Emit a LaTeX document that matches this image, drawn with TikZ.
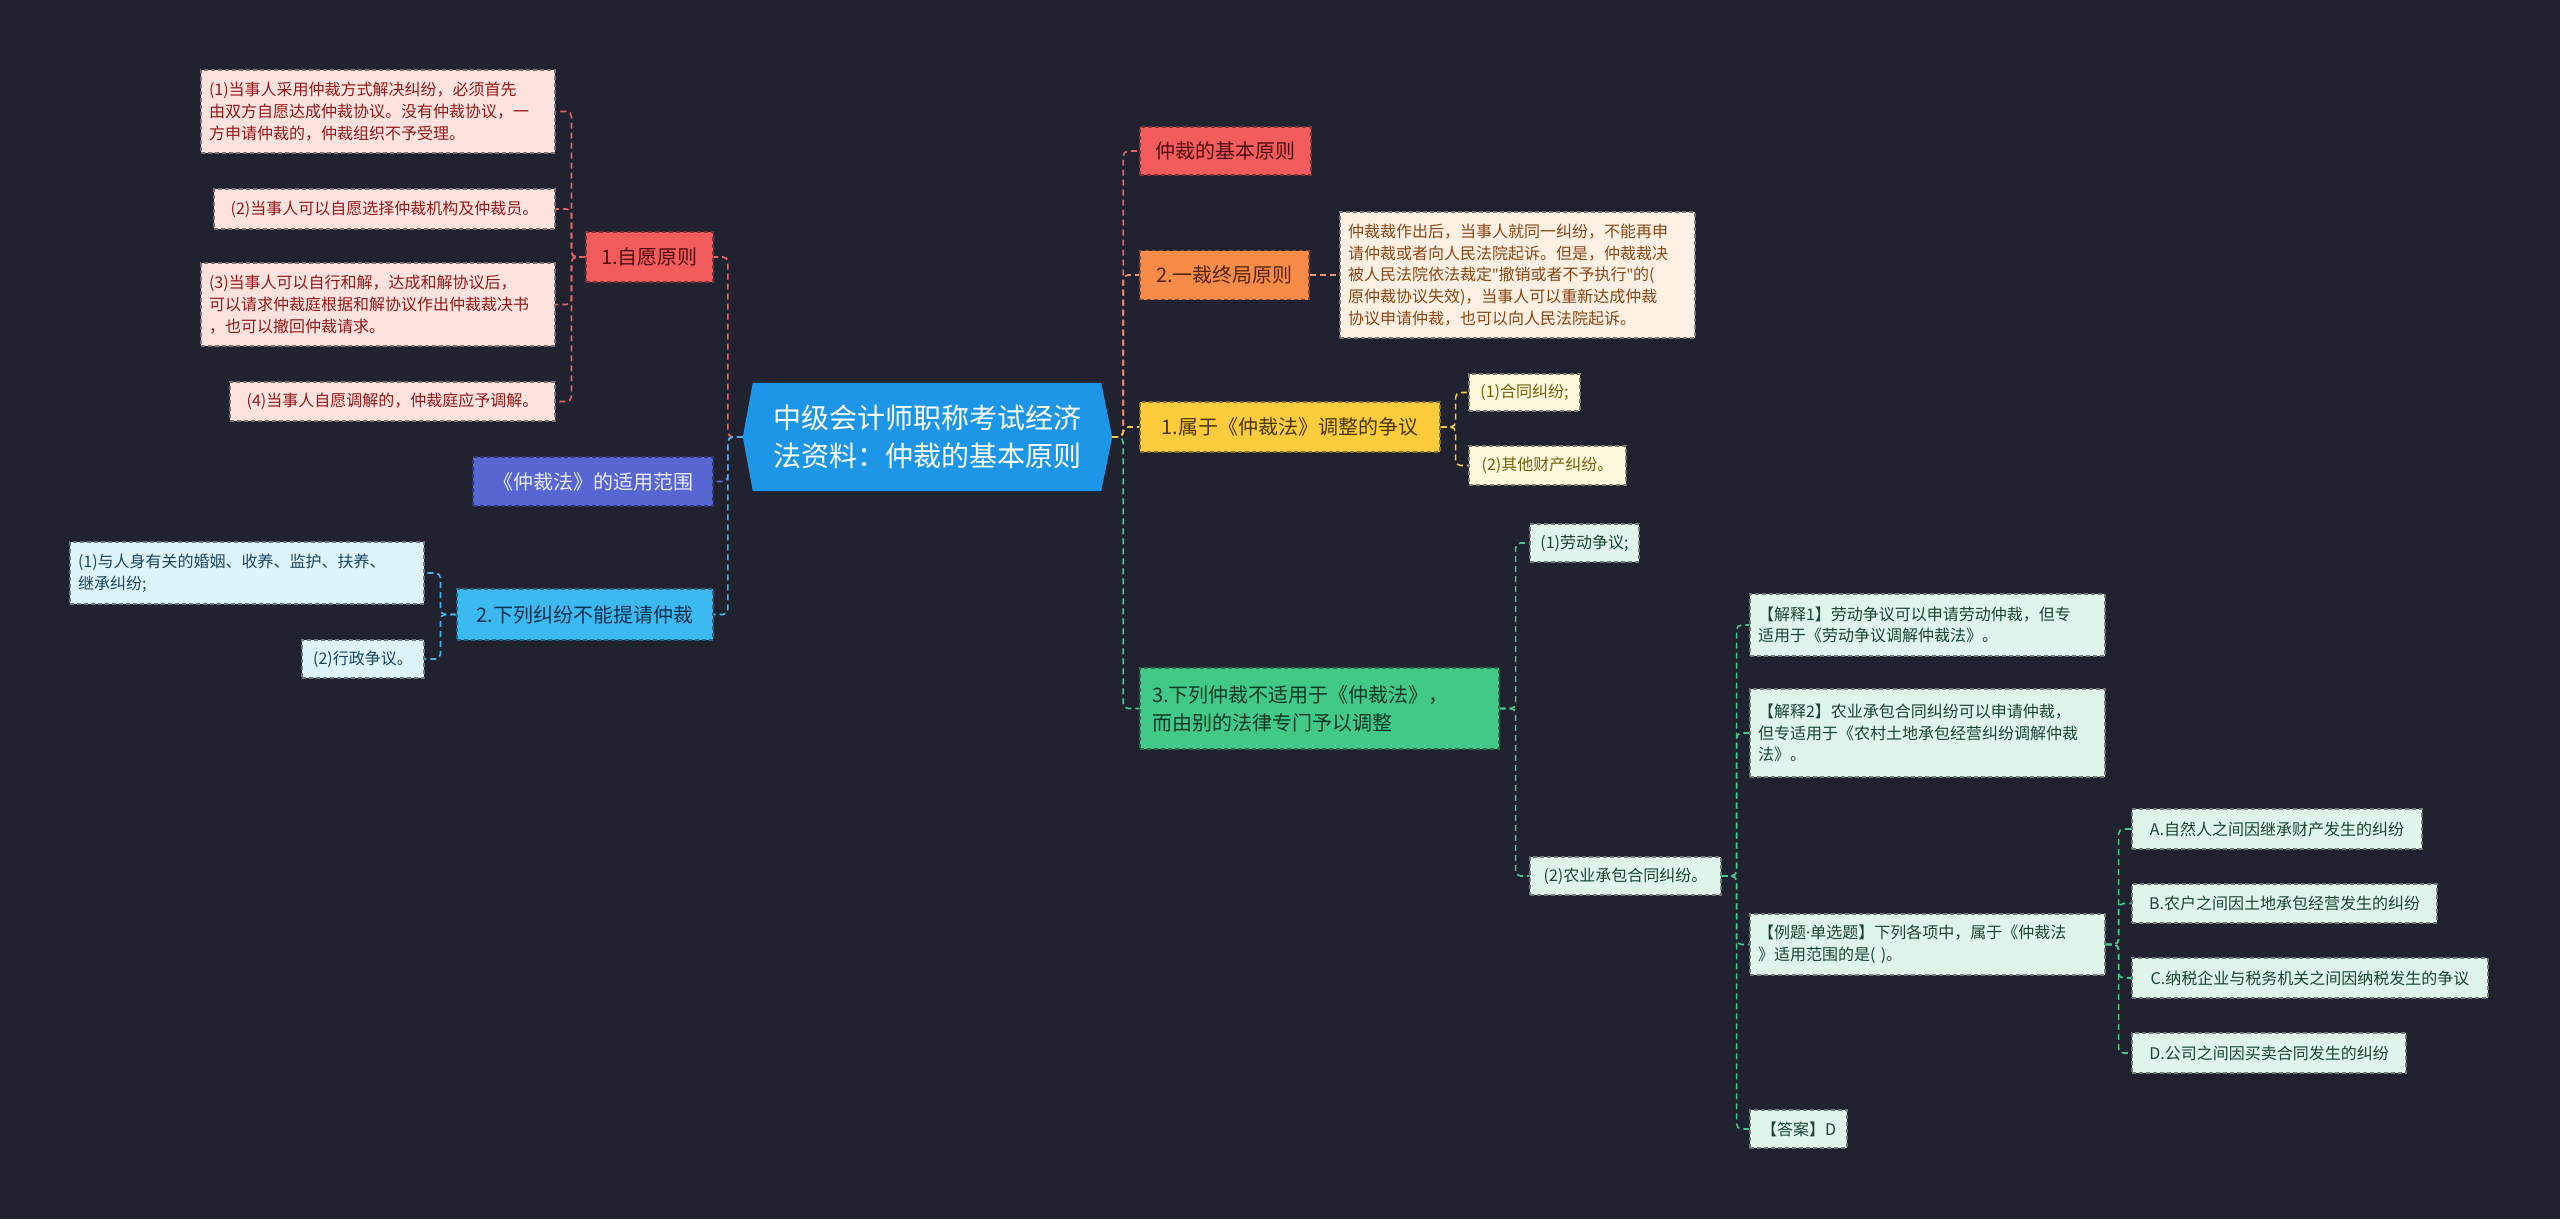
\documentclass[tikz,border=0pt]{standalone}
\usepackage{fontspec}
\setmainfont{Noto Sans CJK SC}
\newfontfamily\latinfont{Noto Sans}
\pgfdeclarelayer{bgfill}
\pgfdeclarelayer{bg}
\pgfsetlayers{bgfill,bg,main}
\definecolor{bgc}{RGB}{32,35,47}
\definecolor{hexblue}{RGB}{30,150,232}
% level box colours
\definecolor{cRedF}{RGB}{242,92,92}\definecolor{cRedT}{RGB}{80,12,12}
\definecolor{cOrgF}{RGB}{247,140,72}\definecolor{cOrgT}{RGB}{85,38,8}
\definecolor{cYelF}{RGB}{252,204,60}\definecolor{cYelT}{RGB}{75,55,0}
\definecolor{cGrnF}{RGB}{66,200,135}\definecolor{cGrnT}{RGB}{10,58,34}
\definecolor{cPurF}{RGB}{88,102,212}\definecolor{cPurT}{RGB}{232,236,255}
\definecolor{cBluF}{RGB}{60,185,240}\definecolor{cBluT}{RGB}{10,48,78}
% leaf colours
\definecolor{cPinkF}{RGB}{253,226,222}\definecolor{cPinkT}{RGB}{150,25,25}
\definecolor{cOrgLF}{RGB}{255,240,228}\definecolor{cOrgLT}{RGB}{140,70,20}
\definecolor{cYelLF}{RGB}{255,248,220}\definecolor{cYelLT}{RGB}{120,95,10}
\definecolor{cGrnLF}{RGB}{224,245,234}\definecolor{cGrnLT}{RGB}{25,70,50}
\definecolor{cBluLF}{RGB}{222,244,253}\definecolor{cBluLT}{RGB}{25,70,100}
% edge colours
\definecolor{cRedE}{RGB}{232,100,100}
\definecolor{cOrgE}{RGB}{240,150,100}
\definecolor{cYelE}{RGB}{245,200,70}
\definecolor{cGrnE}{RGB}{70,200,140}
\definecolor{cBluE}{RGB}{70,180,235}
\definecolor{cPurE}{RGB}{100,112,215}
\begin{document}
\begin{tikzpicture}[x=1pt,y=-1pt,
  box/.style={rectangle, line width=1.1pt, dash pattern=on 4pt off 3pt, inner ysep=4pt},
  lvl/.style={box, font=\fontsize{20}{28}\selectfont, inner xsep=12pt, align=center},
  leaf/.style={box, font=\fontsize{16}{21.7}\selectfont, inner xsep=8pt, align=left},
  redbox/.style={lvl, fill=cRedF, draw=cRedF!55!black, text=cRedT},
  orgbox/.style={lvl, fill=cOrgF, draw=cOrgF!55!black, text=cOrgT},
  yelbox/.style={lvl, fill=cYelF, draw=cYelF!55!black, text=cYelT},
  grnbox/.style={lvl, fill=cGrnF, draw=cGrnF!55!black, text=cGrnT},
  purbox/.style={lvl, fill=cPurF, draw=cPurF!55!black, text=cPurT},
  blubox/.style={lvl, fill=cBluF, draw=cBluF!55!black, text=cBluT},
  pinkleaf/.style={leaf, fill=cPinkF, draw=cPinkF!50!black, text=cPinkT},
  orgleaf/.style={leaf, fill=cOrgLF, draw=cOrgLF!50!black, text=cOrgLT},
  yelleaf/.style={leaf, fill=cYelLF, draw=cYelLF!50!black, text=cYelLT},
  grnleaf/.style={leaf, fill=cGrnLF, draw=cGrnLF!50!black, text=cGrnLT},
  bluleaf/.style={leaf, fill=cBluLF, draw=cBluLF!50!black, text=cBluLT},
  link/.style={line width=1.6pt, dash pattern=on 6pt off 4pt, rounded corners=5pt},
  eRed/.style={link, draw=cRedE},
  eOrg/.style={link, draw=cOrgE},
  eYel/.style={link, draw=cYelE},
  eGrn/.style={link, draw=cGrnE},
  eBlu/.style={link, draw=cBluE},
  ePur/.style={link, draw=cPurE}
]
\begin{pgfonlayer}{bgfill}
\fill[bgc] (0,0) rectangle (2560,1219);
\end{pgfonlayer}
\useasboundingbox (0,0) rectangle (2560,1219);

% central
\node[font=\fontsize{28}{38}\selectfont, text=white, align=center, minimum width=369pt, minimum height=108pt, inner sep=0pt] (c) at (927.5,437) {中级会计师职称考试经济\\法资料：仲裁的基本原则};

% left level 1
\node[redbox, minimum width=127pt, minimum height=50pt] (n1) at (649.5,257) {1.自愿原则};
\node[purbox, minimum width=240pt, minimum height=49pt] (nfan) at (593,481.5) {《仲裁法》的适用范围};
\node[blubox, minimum width=256pt, minimum height=51pt] (n2) at (585,614.5) {2.下列纠纷不能提请仲裁};

% left leaves
\node[pinkleaf, text width=338pt, minimum height=83pt] (l1a) at (378,111.5) {(1)当事人采用仲裁方式解决纠纷，必须首先\\由双方自愿达成仲裁协议。没有仲裁协议，一\\方申请仲裁的，仲裁组织不予受理。};
\node[pinkleaf, minimum width=341pt, minimum height=40pt] (l1b) at (384.5,209) {(2)当事人可以自愿选择仲裁机构及仲裁员。};
\node[pinkleaf, text width=338pt, minimum height=83pt] (l1c) at (378,304.5) {(3)当事人可以自行和解，达成和解协议后，\\可以请求仲裁庭根据和解协议作出仲裁裁决书\\，也可以撤回仲裁请求。};
\node[pinkleaf, minimum width=325pt, minimum height=39pt] (l1d) at (392.5,401.5) {(4)当事人自愿调解的，仲裁庭应予调解。};
\node[bluleaf, text width=338pt, minimum height=62pt] (l2a) at (247,573) {(1)与人身有关的婚姻、收养、监护、扶养、\\继承纠纷;};
\node[bluleaf, minimum width=122pt, minimum height=38pt] (l2b) at (363,659) {(2)行政争议。};

% right level 1
\node[redbox, minimum width=171pt, minimum height=48pt] (r0) at (1225.5,151) {仲裁的基本原则};
\node[orgbox, minimum width=169pt, minimum height=49pt] (r1) at (1224.5,275) {2.一裁终局原则};
\node[yelbox, minimum width=300pt, minimum height=50pt] (r2) at (1290,427) {1.属于《仲裁法》调整的争议};
\node[grnbox, align=left, text width=335pt, minimum height=81pt] (r3) at (1319.5,708.5) {3.下列仲裁不适用于《仲裁法》，\\而由别的法律专门予以调整};

% right leaves
\node[orgleaf, text width=339pt, minimum height=126pt] (r1a) at (1517.5,275) {仲裁裁作出后，当事人就同一纠纷，不能再申\\请仲裁或者向人民法院起诉。但是，仲裁裁决\\被人民法院依法裁定{\latinfont"}撤销或者不予执行{\latinfont"}的(\\原仲裁协议失效)，当事人可以重新达成仲裁\\协议申请仲裁，也可以向人民法院起诉。};
\node[yelleaf, minimum width=111pt, minimum height=37pt] (r2a) at (1524.5,392.5) {(1)合同纠纷;};
\node[yelleaf, minimum width=157pt, minimum height=39pt] (r2b) at (1547.5,465.5) {(2)其他财产纠纷。};
\node[grnleaf, minimum width=109pt, minimum height=38pt] (r3a) at (1584.5,543) {(1)劳动争议;};
\node[grnleaf, minimum width=191pt, minimum height=38pt] (r3b) at (1625.5,876) {(2)农业承包合同纠纷。};
\node[grnleaf, text width=339pt, minimum height=62pt] (x1) at (1927.5,625) {【解释1】劳动争议可以申请劳动仲裁，但专\\适用于《劳动争议调解仲裁法》。};
\node[grnleaf, text width=339pt, minimum height=88pt] (x2) at (1927.5,733) {【解释2】农业承包合同纠纷可以申请仲裁，\\但专适用于《农村土地承包经营纠纷调解仲裁\\法》。};
\node[grnleaf, text width=339pt, minimum height=61pt] (x3) at (1927.5,944.5) {【例题{\latinfont ·}单选题】下列各项中，属于《仲裁法\\》适用范围的是( )。};
\node[grnleaf, minimum width=97pt, minimum height=38pt] (x4) at (1798.5,1129) {【答案】D};
\node[grnleaf, minimum width=290pt, minimum height=40pt] (oa) at (2277,829) {A.自然人之间因继承财产发生的纠纷};
\node[grnleaf, minimum width=305pt, minimum height=39pt] (ob) at (2284.5,903.5) {B.农户之间因土地承包经营发生的纠纷};
\node[grnleaf, minimum width=356pt, minimum height=40pt] (oc) at (2310,978) {C.纳税企业与税务机关之间因纳税发生的争议};
\node[grnleaf, minimum width=274pt, minimum height=40pt] (od) at (2269,1053) {D.公司之间因买卖合同发生的纠纷};

\begin{pgfonlayer}{bg}
% hexagon of the central topic
\fill[hexblue] (c.west) -- ([xshift=10pt]c.north west) -- ([xshift=-11pt]c.north east) -- (c.east) -- ([xshift=-11pt]c.south east) -- ([xshift=10pt]c.south west) -- cycle;
% left connectors
\draw[eRed] (c.west) -- ++(-15,0) |- (n1.east);
\draw[ePur] (c.west) -- ++(-15,0) |- (nfan.east);
\draw[eBlu] (c.west) -- ++(-15,0) |- (n2.east);
\draw[eRed] (n1.west) -- ++(-14,0) |- (l1a.east);
\draw[eRed] (n1.west) -- ++(-14,0) |- (l1b.east);
\draw[eRed] (n1.west) -- ++(-14,0) |- (l1c.east);
\draw[eRed] (n1.west) -- ++(-14,0) |- (l1d.east);
\draw[eBlu] (n2.west) -- ++(-16,0) |- (l2a.east);
\draw[eBlu] (n2.west) -- ++(-16,0) |- (l2b.east);
% right connectors
\draw[eRed] (c.east) -- ++(11,0) |- (r0.west);
\draw[eOrg] (c.east) -- ++(11,0) |- (r1.west);
\draw[eGrn] (c.east) -- ++(11,0) |- (r3.west);
\draw[eYel] (c.east) -- ++(11,0) |- (r2.west);
\draw[eOrg] (r1.east) -- (r1a.west);
\draw[eYel] (r2.east) -- ++(15,0) |- (r2a.west);
\draw[eYel] (r2.east) -- ++(15,0) |- (r2b.west);
\draw[eGrn] (r3.east) -- ++(16,0) |- (r3a.west);
\draw[eGrn] (r3.east) -- ++(16,0) |- (r3b.west);
\draw[eGrn] (r3b.east) -- ++(15,0) |- (x1.west);
\draw[eGrn] (r3b.east) -- ++(15,0) |- (x2.west);
\draw[eGrn] (r3b.east) -- ++(15,0) |- (x3.west);
\draw[eGrn] (r3b.east) -- ++(15,0) |- (x4.west);
\draw[eGrn] (x3.east) -- ++(13,0) |- (oa.west);
\draw[eGrn] (x3.east) -- ++(13,0) |- (ob.west);
\draw[eGrn] (x3.east) -- ++(13,0) |- (oc.west);
\draw[eGrn] (x3.east) -- ++(13,0) |- (od.west);
\end{pgfonlayer}
\end{tikzpicture}
\end{document}
